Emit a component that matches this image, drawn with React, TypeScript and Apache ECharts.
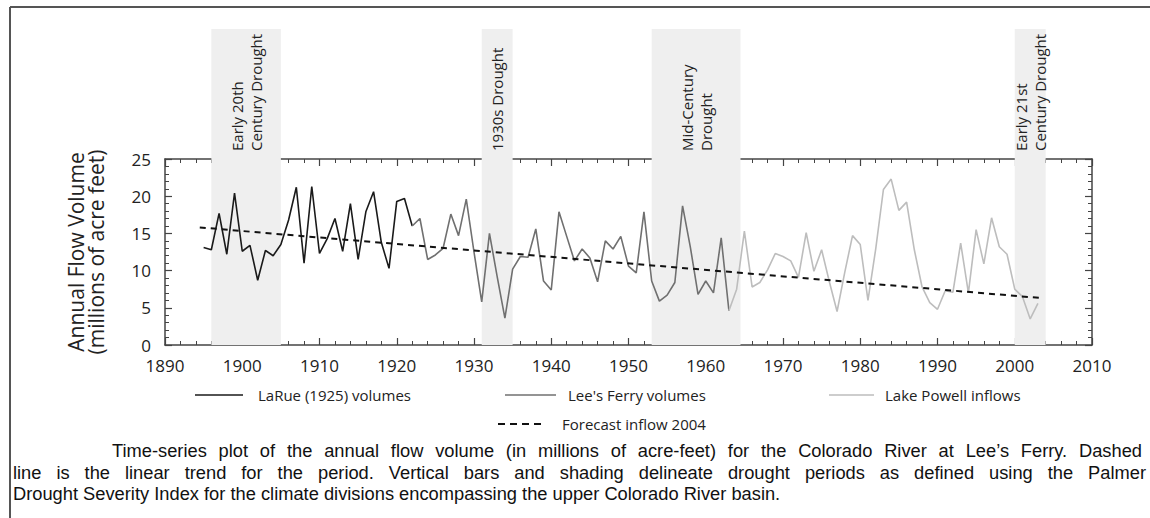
import React, { useEffect, useRef } from "react";
import * as echarts from "echarts";

const X_MIN = 1890;
const X_MAX = 2010;
const Y_MIN = 0;
const Y_MAX = 25;

const LARUE_START = 1895;
const larueValues = [
  13.1, 12.8, 17.7, 12.2, 20.4, 12.6, 13.4, 8.7, 12.7, 12.0,
  13.5, 16.8, 21.2, 11.0, 21.3, 12.3, 14.3, 17.0, 12.6, 19.0,
  11.5, 17.9, 20.6, 13.8, 10.3, 19.3, 19.7, 16.0,
];

const LEES_START = 1922;
const leesValues = [
  16.0, 17.0, 11.5, 12.1, 13.0, 17.6, 14.7, 19.6, 12.5, 5.8,
  15.0, 9.2, 3.6, 10.2, 11.9, 11.8, 15.6, 8.6, 7.4, 17.9,
  14.6, 11.3, 12.9, 11.7, 8.5, 14.0, 12.9, 14.6, 10.6, 9.7,
  17.9, 8.6, 5.9, 6.7, 8.4, 18.7, 13.2, 6.8, 8.6, 7.0,
  14.4, 4.6,
];

const POWELL_START = 1963;
const powellValues = [
  4.6, 7.5, 15.3, 7.8, 8.4, 10.1, 12.3, 11.9, 11.3, 9.1,
  15.1, 9.9, 12.8, 8.5, 4.5, 9.8, 14.7, 13.5, 6.0, 12.9,
  20.9, 22.3, 18.1, 19.2, 12.8, 7.8, 5.7, 4.8, 7.3, 7.1,
  13.7, 7.0, 15.5, 10.9, 17.1, 13.2, 12.2, 7.5, 6.5, 3.5,
  5.6,
];

const trendPoints = [
  [1894.5, 15.8],
  [2003.6, 6.3],
];

const droughtPeriods = [
  [1896, 1905],
  [1931, 1935],
  [1953, 1964.5],
  [2000, 2004],
];
const droughtLabels = [
  "Early 20th\nCentury Drought",
  "1930s Drought",
  "Mid-Century\nDrought",
  "Early 21st\nCentury Drought",
];

const seriesNames = [
  "LaRue (1925) volumes",
  "Lee's Ferry volumes",
  "Lake Powell inflows",
  "Forecast inflow 2004",
];
const seriesColors = ["#1a1a1a", "#707070", "#bdbdbd", "#111111"];

const yAxisTitle = "Annual Flow Volume\n(millions of acre feet)";

const captionLines = [
  "Time-series plot of the annual flow volume (in millions of acre-feet) for the Colorado River at Lee\u2019s Ferry. Dashed",
  "line is the linear trend for the period. Vertical bars and shading delineate drought periods as defined using the Palmer",
  "Drought Severity Index for the climate divisions encompassing the upper Colorado River basin.",
];

const toPairs = (start: number, vals: number[]) => vals.map((v, i) => [start + i, v]);

const CAPTION_FONT_SIZE = 18.3;
const CAPTION_FONT = "Liberation Sans";

function captionElements() {
  const canvas = document.createElement("canvas");
  const ctx = canvas.getContext("2d") as CanvasRenderingContext2D;
  ctx.font = `${CAPTION_FONT_SIZE}px "${CAPTION_FONT}"`;
  const layout = [
    { x0: 112, x1: 1142, y: 450, justify: true },
    { x0: 13, x1: 1146, y: 472, justify: true },
    { x0: 13, x1: 0, y: 493, justify: false },
  ];
  const els: any[] = [];
  captionLines.forEach((line, li) => {
    const L = layout[li];
    if (!L.justify) {
      els.push({
        type: "text",
        x: L.x0,
        y: L.y,
        style: {
          text: line,
          fill: "#111",
          fontSize: CAPTION_FONT_SIZE,
          fontFamily: CAPTION_FONT,
          align: "left",
          verticalAlign: "middle",
        },
      });
      return;
    }
    const words = line.split(" ");
    const widths = words.map((w) => ctx.measureText(w).width);
    const total = widths.reduce((a, b) => a + b, 0);
    const gap = (L.x1 - L.x0 - total) / (words.length - 1);
    let x = L.x0;
    words.forEach((w, i) => {
      els.push({
        type: "text",
        x,
        y: L.y,
        style: {
          text: w,
          fill: "#111",
          fontSize: CAPTION_FONT_SIZE,
          fontFamily: CAPTION_FONT,
          align: "left",
          verticalAlign: "middle",
        },
      });
      x += widths[i] + gap;
    });
  });
  return els;
}

export default function App() {
  const ref = useRef<HTMLDivElement>(null);

  useEffect(() => {
    document.body.style.margin = "0";
    if (!ref.current) return;
    const chart = echarts.init(ref.current, undefined, { renderer: "svg" });

    const GRID_LEFT = 165;
    const GRID_RIGHT = 58;
    const GRID_BOTTOM = 173;

    const axisColor = "#444";
    const tickCommon = {
      inside: true,
      length: 7,
      lineStyle: { color: axisColor, width: 1.2 },
    };
    const minorCommon = {
      show: true,
      splitNumber: 5,
      length: 4,
      lineStyle: { color: axisColor, width: 1 },
    };
    const labelFont = { fontFamily: "Open Sans", fontSize: 17, color: "#222" };

    const option: any = {
      animation: false,
      backgroundColor: "#fff",
      grid: [
        { left: GRID_LEFT, right: GRID_RIGHT, top: 29, bottom: GRID_BOTTOM, show: false },
        { left: GRID_LEFT, right: GRID_RIGHT, top: 159, bottom: GRID_BOTTOM, show: false },
      ],
      xAxis: [
        { type: "value", gridIndex: 0, min: X_MIN, max: X_MAX, show: false },
        {
          type: "value",
          gridIndex: 1,
          min: X_MIN,
          max: X_MAX,
          interval: 10,
          position: "bottom",
          axisLine: { show: true, onZero: false, lineStyle: { color: axisColor, width: 1.5 } },
          axisTick: tickCommon,
          minorTick: minorCommon,
          splitLine: { show: false },
          axisLabel: { ...labelFont, margin: 12, formatter: (v: number) => String(v) },
        },
        {
          type: "value",
          gridIndex: 1,
          min: X_MIN,
          max: X_MAX,
          interval: 10,
          position: "top",
          axisLine: { show: true, onZero: false, lineStyle: { color: axisColor, width: 1.5 } },
          axisTick: tickCommon,
          minorTick: minorCommon,
          splitLine: { show: false },
          axisLabel: { show: false },
        },
      ],
      yAxis: [
        { type: "value", gridIndex: 0, min: 0, max: 1, show: false },
        {
          type: "value",
          gridIndex: 1,
          min: Y_MIN,
          max: Y_MAX,
          interval: 5,
          position: "left",
          axisLine: { show: true, onZero: false, lineStyle: { color: axisColor, width: 1.5 } },
          axisTick: tickCommon,
          minorTick: minorCommon,
          splitLine: { show: false },
          axisLabel: { ...labelFont, margin: 14 },
        },
        {
          type: "value",
          gridIndex: 1,
          min: Y_MIN,
          max: Y_MAX,
          interval: 5,
          position: "right",
          axisLine: { show: true, onZero: false, lineStyle: { color: axisColor, width: 1.5 } },
          axisTick: tickCommon,
          minorTick: minorCommon,
          splitLine: { show: false },
          axisLabel: { show: false },
        },
      ],
      series: [
        {
          type: "line",
          name: "droughts",
          xAxisIndex: 0,
          yAxisIndex: 0,
          data: [],
          silent: true,
          z: 0,
          markArea: {
            silent: true,
            itemStyle: { color: "#efefef" },
            data: droughtPeriods.map(([a, b]) => [{ xAxis: a }, { xAxis: b }]),
          },
        },
        {
          type: "line",
          name: seriesNames[0],
          xAxisIndex: 1,
          yAxisIndex: 1,
          data: toPairs(LARUE_START, larueValues),
          symbol: "none",
          lineStyle: { color: seriesColors[0], width: 1.6 },
          z: 3,
        },
        {
          type: "line",
          name: seriesNames[1],
          xAxisIndex: 1,
          yAxisIndex: 1,
          data: toPairs(LEES_START, leesValues),
          symbol: "none",
          lineStyle: { color: seriesColors[1], width: 1.6 },
          z: 3,
        },
        {
          type: "line",
          name: seriesNames[2],
          xAxisIndex: 1,
          yAxisIndex: 1,
          data: toPairs(POWELL_START, powellValues),
          symbol: "none",
          lineStyle: { color: seriesColors[2], width: 1.6 },
          z: 3,
        },
        {
          type: "line",
          name: seriesNames[3],
          xAxisIndex: 1,
          yAxisIndex: 1,
          data: trendPoints,
          symbol: "none",
          lineStyle: { color: seriesColors[3], width: 2, type: [6, 5] },
          z: 4,
        },
      ],
    };
    chart.setOption(option);

    const labelEls = droughtPeriods.map(([a, b], i) => {
      const cx = chart.convertToPixel({ xAxisIndex: 0 }, (a + b) / 2) as number;
      return {
        type: "text",
        x: cx,
        y: 151,
        rotation: Math.PI / 2,
        style: {
          text: droughtLabels[i],
          fill: "#222",
          fontSize: 15,
          lineHeight: 19,
          fontFamily: "Open Sans",
          align: "left",
          verticalAlign: "middle",
        },
        z: 10,
      };
    });

    const legendItems = [
      { x0: 195, x1: 243, tx: 258, y: 395, dash: false, c: seriesColors[0], n: seriesNames[0] },
      { x0: 505, x1: 556, tx: 568, y: 395, dash: false, c: seriesColors[1], n: seriesNames[1] },
      { x0: 829, x1: 874, tx: 885, y: 395, dash: false, c: seriesColors[2], n: seriesNames[2] },
      { x0: 498, x1: 545, tx: 562, y: 424, dash: true, c: seriesColors[3], n: seriesNames[3] },
    ];
    const legendEls: any[] = [];
    legendItems.forEach((it) => {
      legendEls.push({
        type: "line",
        shape: { x1: it.x0, y1: it.y, x2: it.x1, y2: it.y },
        style: { stroke: it.c, lineWidth: it.dash ? 2 : 1.6, lineDash: it.dash ? [7, 5] : null },
      });
      legendEls.push({
        type: "text",
        x: it.tx,
        y: it.y,
        style: {
          text: it.n,
          fill: "#222",
          fontSize: 15,
          fontFamily: "Open Sans",
          align: "left",
          verticalAlign: "middle",
        },
      });
    });

    chart.setOption({
      graphic: [
        {
          type: "line",
          shape: { x1: 10, y1: 7, x2: 1150, y2: 7 },
          style: { stroke: "#555", lineWidth: 2 },
        },
        {
          type: "line",
          shape: { x1: 10, y1: 7, x2: 10, y2: 518 },
          style: { stroke: "#555", lineWidth: 2 },
        },
        {
          type: "text",
          x: 86,
          y: 252,
          rotation: Math.PI / 2,
          style: {
            text: yAxisTitle,
            fill: "#222",
            fontSize: 21,
            lineHeight: 20,
            fontFamily: "Open Sans",
            align: "center",
            verticalAlign: "middle",
          },
        },
        ...labelEls,
        ...legendEls,
        ...captionElements(),
      ],
    });

    return () => chart.dispose();
  }, []);

  return <div ref={ref} style={{ width: 1150, height: 518 }} />;
}
